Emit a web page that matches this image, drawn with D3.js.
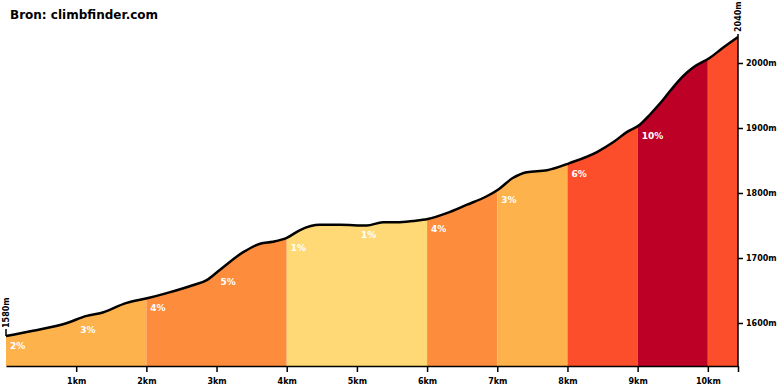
<!DOCTYPE html>
<html><head><meta charset="utf-8">
<script src="https://cdn.jsdelivr.net/npm/d3@7"></script>
<style>body{margin:0;background:#fff}svg{display:block}text{font-family:"DejaVu Sans",Verdana,sans-serif;font-weight:bold}</style>
</head><body><svg id="c" width="780" height="390"></svg>
<script>
const distKm = [0,0.385,0.87,1.15,1.34,1.72,2.01,2.29,2.66,2.86,3.05,3.38,3.62,3.80,4.00,4.19,4.47,4.76,5.14,5.37,5.57,5.80,6.01,6.28,6.57,6.85,7.01,7.22,7.42,7.71,8.03,8.42,8.65,8.85,9.03,9.17,9.32,9.47,9.64,9.79,10.03,10.21,10.43];
const elevM = [1580,1588,1600,1611,1615,1631,1638,1646,1658,1666,1682,1709,1722,1725,1731,1743,1751,1751,1750,1755,1755,1757,1760,1769,1782,1795,1805,1823,1832,1835,1846,1863,1878,1894,1905,1920,1938,1958,1979,1993,2008,2023,2040];
const segStartKm = [0,1,2,3,4,5,6,7,8,9,10];
const segGrade = [2,3,4,5,1,1,4,3,6,10,8];
const segLabel = ["2%","3%","4%","5%","1%","1%","4%","3%","6%","10%",""];
const xTicksKm = [1,2,3,4,5,6,7,8,9,10];
const yTicksM = [1600,1700,1800,1900,2000];
const title = "Bron: climbfinder.com";
const totalKm = 10.43, startM = 1580, topM = 2040;

const svg = d3.select("#c");
const x = d3.scaleLinear().domain([0,totalKm]).range([6,738]);
const y = d3.scaleLinear().domain([1600,2000]).range([323,63]);
const baseY = 366;
const color = d3.scaleThreshold().domain([2,4,6,10]).range(["#fed976","#feb24c","#fd8d3c","#fc4e2a","#bd0026"]);
const pts = distKm.map((d,i)=>({d, e: elevM[i]}));
const area = d3.area().x(p=>x(p.d)).y0(baseY).y1(p=>y(p.e)).curve(d3.curveMonotoneX);
const line = d3.line().x(p=>x(p.d)).y(p=>y(p.e)).curve(d3.curveMonotoneX);
const interp = km => { const i = d3.bisectLeft(distKm, km); if(i<=0) return elevM[0]; if(i>=distKm.length) return elevM[elevM.length-1]; const t=(km-distKm[i-1])/(distKm[i]-distKm[i-1]); return elevM[i-1]+t*(elevM[i]-elevM[i-1]); };

const defs = svg.append("defs");
segStartKm.forEach((s,i)=>{
  const e = i<segStartKm.length-1 ? segStartKm[i+1] : totalKm;
  const same = i<segStartKm.length-1 && color(segGrade[i])===color(segGrade[i+1]);
  defs.append("clipPath").attr("id","cp"+i).append("rect")
    .attr("x",x(s)).attr("y",0).attr("width",x(e)-x(s)+(same?1:0)).attr("height",baseY);
  svg.append("path").datum(pts).attr("d",area).attr("fill",color(segGrade[i])).attr("clip-path","url(#cp"+i+")");
});
svg.append("path").datum(pts).attr("d",line).attr("fill","none").attr("stroke","#000").attr("stroke-width",2.5);

segStartKm.forEach((s,i)=>{
  if(!segLabel[i]) return;
  svg.append("text").attr("x",x(s)+4).attr("y",y(interp(s))+13).attr("fill","#fff").attr("font-size",9).text(segLabel[i]);
});

// bottom axis
const xa = svg.append("g").attr("transform",`translate(0,${baseY})`)
  .call(d3.axisBottom(x).tickValues(xTicksKm.concat([totalKm])).tickSize(6).tickSizeOuter(0).tickFormat(d=>xTicksKm.includes(d)?d+"km":""));
xa.select(".domain").attr("stroke","#000").attr("stroke-width",1.5);
xa.selectAll(".tick line").attr("stroke","#000").attr("stroke-width",1.5);
xa.selectAll("text").attr("font-size",8).attr("fill","#000").attr("dy","1.1em").attr("font-family","DejaVu Sans, sans-serif");

// right axis
const ya = svg.append("g").attr("transform","translate(738,0)")
  .call(d3.axisRight(y).tickValues(yTicksM).tickSize(5).tickSizeOuter(0).tickFormat(d=>d+"m"));
ya.select(".domain").remove();
svg.append("line").attr("x1",738).attr("x2",738).attr("y1",y(topM)-3).attr("y2",baseY).attr("stroke","#000").attr("stroke-width",1.5);
ya.selectAll(".tick line").attr("stroke","#000").attr("stroke-width",1.5);
ya.selectAll("text").attr("font-size",8).attr("fill","#000").attr("x",8).attr("font-family","DejaVu Sans, sans-serif");

// end labels
svg.append("text").attr("transform",`translate(${x(totalKm)+3},${y(topM)-5}) rotate(-90)`).attr("font-size",8).text(topM+"m");
svg.append("line").attr("x1",x(0)).attr("x2",x(0)).attr("y1",y(startM)-7).attr("y2",y(startM)).attr("stroke","#000").attr("stroke-width",1.5);
svg.append("text").attr("transform",`translate(${x(0)+3},${y(startM)-8}) rotate(-90)`).attr("font-size",8).text(startM+"m");

svg.append("text").attr("x",10).attr("y",19).attr("font-size",12).attr("fill","#000").text(title);
</script></body></html>
